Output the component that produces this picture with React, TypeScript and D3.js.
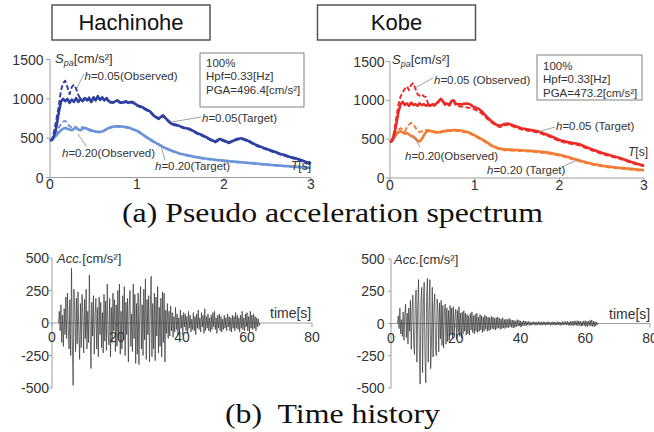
import React from "react";
import * as d3 from "d3";

// ---------- DATA ----------
const periods = [
  0, 0.025, 0.05, 0.075, 0.1, 0.125, 0.15, 0.175, 0.2, 0.225, 0.25, 0.275, 0.3, 0.325, 0.35, 0.375, 0.4, 0.425, 0.45, 0.475,
  0.5, 0.525, 0.55, 0.575, 0.6, 0.625, 0.65, 0.675, 0.7, 0.725, 0.75, 0.775, 0.8, 0.825, 0.85, 0.875, 0.9, 0.925, 0.95, 0.975, 1.0,
  1.05, 1.1, 1.15, 1.2, 1.25, 1.3, 1.35, 1.4, 1.45, 1.5, 1.55, 1.6, 1.65, 1.7, 1.75, 1.8, 1.85, 1.9, 1.95, 2.0,
  2.05, 2.1, 2.15, 2.2, 2.25, 2.3, 2.35, 2.4, 2.45, 2.5, 2.55, 2.6, 2.65, 2.7, 2.75, 2.8, 2.85, 2.9, 2.95, 3.0,
];

const hachinoheTarget05 = [
  470, 480, 540, 650, 820, 960, 1000, 970, 1000, 950, 990, 960, 1010, 960, 1000, 970, 1010, 980, 1000, 960,
  1020, 980, 1030, 990, 1020, 980, 1010, 970, 960, 950, 970, 980, 960, 950, 960, 970, 950, 960, 960, 940, 920,
  900, 870, 840, 780, 750, 790, 730, 680, 670, 650, 630, 620, 590, 560, 540, 510, 480, 455, 490, 470,
  445, 465, 490, 500, 480, 455, 425, 400, 380, 360, 340, 320, 300, 285, 265, 250, 235, 215, 195, 175,
];
const hachinoheObserved05 = [
  470, 490, 600, 750, 900, 1100, 1200, 1230, 1150, 1060, 1150, 1180, 1130, 1050, 1000, 980, 1010, 990, 1020, 960,
  1010, 990, 1040, 980, 1010, 990, 1000, 960, 950, 960, 960, 970, 950, 940, 950, 960, 940, 950, 950, 930, 910,
  890, 860, 830, 770, 740, 780, 720, 670, 660, 640, 620, 610, 580, 550, 530, 500, 470, 445, 480, 460,
  435, 455, 480, 490, 470, 445, 415, 390, 370, 350, 330, 310, 290, 275, 255, 240, 225, 205, 185, 165,
];
const hachinoheTarget20 = [
  470, 480, 510, 540, 570, 600, 620, 630, 620, 610, 600, 620, 630, 610, 600, 620, 630, 620, 610, 600,
  590, 585, 580, 580, 585, 600, 615, 630, 640, 645, 650, 650, 650, 648, 645, 640, 635, 625, 615, 605, 595,
  560, 520, 485, 450, 420, 390, 363, 340, 320, 303, 290, 278, 266, 256, 247, 239, 232, 226, 220, 214,
  209, 204, 199, 194, 189, 184, 179, 174, 169, 164, 159, 155, 151, 147, 143, 139, 135, 131, 127, 123,
];
const hachinoheObserved20 = [
  470, 490, 530, 580, 630, 680, 710, 720, 690, 650, 640, 650, 640, 620, 630, 640, 630, 610, 600, 590,
  585, 580, 575, 575, 580, 595, 610, 625, 635, 640, 645, 645, 645, 643, 640, 635, 630, 620, 610, 600, 590,
  555, 515, 480, 445, 415, 385, 358, 335, 315, 298, 285, 273, 261, 251, 242, 234, 227, 221, 215, 209,
  204, 199, 194, 189, 184, 179, 174, 169, 164, 159, 154, 150, 146, 142, 138, 134, 130, 126, 122, 118,
];

const kobeTarget05 = [
  460, 480, 560, 700, 850, 950, 980, 940, 960, 930, 970, 940, 950, 930, 960, 940, 950, 930, 940, 930,
  950, 940, 960, 990, 1020, 990, 950, 960, 940, 990, 1000, 960, 950, 950, 950, 955, 960, 955, 945, 925, 910,
  890, 840, 780, 730, 690, 670, 695, 700, 680, 660, 640, 630, 620, 610, 600, 580, 560, 540, 515, 490,
  475, 462, 452, 445, 430, 405, 385, 365, 345, 325, 308, 292, 278, 265, 245, 225, 205, 190, 175, 160,
];
const kobeObserved05 = [
  460, 490, 600, 780, 950, 1050, 1100, 1150, 1180, 1130, 1200, 1220, 1150, 1080, 1060, 1080, 1050, 1040, 960, 940,
  940, 930, 950, 980, 1010, 980, 940, 950, 930, 970, 990, 940, 930, 920, 920, 915, 910, 905, 900, 890, 880,
  860, 815, 760, 715, 675, 655, 680, 685, 665, 645, 625, 615, 605, 595, 585, 565, 545, 525, 500, 475,
  460, 447, 437, 430, 415, 390, 370, 350, 330, 311, 295, 280, 266, 253, 234, 214, 195, 180, 165, 150,
];
const kobeTarget20 = [
  460, 480, 520, 560, 590, 600, 590, 570, 580, 560, 540, 530, 510, 480, 470, 500, 550, 590, 610, 605,
  600, 595, 590, 590, 595, 600, 605, 610, 615, 615, 618, 618, 615, 612, 608, 602, 595, 588, 578, 565, 550,
  520, 490, 455, 420, 395, 378, 368, 365, 362, 360, 357, 354, 350, 346, 341, 336, 330, 320, 310, 298,
  285, 270, 255, 238, 222, 207, 193, 180, 170, 160, 152, 145, 139, 133, 127, 122, 117, 112, 107, 102,
];
const kobeObserved20 = [
  460, 490, 540, 590, 620, 640, 620, 600, 650, 690, 710, 690, 650, 610, 590, 600, 615, 620, 615, 605,
  595, 585, 580, 580, 585, 590, 595, 600, 605, 605, 608, 608, 605, 602, 598, 592, 585, 578, 568, 555, 540,
  510, 480, 445, 410, 385, 368, 358, 355, 352, 350, 347, 344, 340, 336, 331, 326, 320, 310, 300, 288,
  275, 260, 245, 228, 212, 197, 183, 170, 160, 150, 142, 135, 129, 123, 117, 112, 107, 102, 97, 92,
];

const timeStart = 2.0;
const timeStep = 0.25;
const hachinoheAcc = [
  0, 90, -60, 140, -150, 60, -180, 110,
  -90, 200, -120, 230, -40, -200, 180, -250,
  420, -120, -480, 260, 80, -220, 190, -160,
  240, -70, -280, 150, -190, 220, 40, -230,
  180, -120, 260, -200, 90, -150, 370, -60,
  -350, 160, -100, 210, -240, 60, 190, -200,
  120, -260, 200, -90, 160, -190, 80, -230,
  220, -140, 170, -210, 300, -80, -170, 190,
  -260, 120, -150, 230, -60, 180, -220, 140,
  -180, 250, -120, 300, -240, 90, -200, 210,
  -130, 280, -250, 160, -90, 190, -300, 120,
  250, -180, 70, -220, 300, -120, 220, -310,
  150, -240, 230, -320, 90, 280, -200, 140,
  -250, 260, -130, 340, -280, 180, -90, 210,
  -300, 120, 360, -260, 150, -200, 230, -290,
  200, -100, 280, -230, 120, -180, 190, -260,
  240, -150, 230, -300, 100, -80, 150, -120,
  90, -100, 130, -60, 80, -110, 50, -70,
  120, -50, 70, -90, 40, -80, 100, -40,
  60, -90, 80, -30, 70, -60, 50, -80,
  90, -40, 60, -70, 30, -50, 80, -60,
  50, -90, 70, -40, 100, -50, 40, -70,
  80, -30, 60, -80, 110, -60, 50, -40,
  70, -60, 40, -70, 60, -50, 80, -30,
  90, -50, 40, -80, 60, -40, 70, -60,
  50, -70, 30, -50, 60, -40, 40, -60,
  70, -30, 50, -60, 40, -70, 60, -40,
  50, -60, 80, -40, 60, -50, 40, -70,
  60, -40, 90, -50, 40, -60, 70, -30,
  80, -60, 50, -70, 90, -40, 60, -50,
  70, -40, 50, -60, 40, -30, 30, -20,
  0,
];
const kobeAcc = [
  0, 60, -40, 120, -80, 30, -100, 90,
  -130, 60, 150, -110, 80, -160, 120, -60,
  180, -200, 90, 220, -150, -240, 170, 260,
  -300, 120, 340, -200, -470, 180, 280, -380,
  150, 320, -250, -460, 210, 350, -300, 100,
  340, -350, -150, 280, -260, 120, 230, -200,
  -250, 190, 110, -220, 160, -120, 180, -170,
  140, -190, 90, 150, -160, 120, -140, 100,
  -130, 140, -80, 120, -110, 130, -90, 60,
  110, -120, 100, -70, 130, -100, 80, -110,
  90, -80, 100, -60, 80, -90, 70, -80,
  60, -90, 80, -50, 90, -70, 60, -80,
  70, -60, 80, -70, 50, -60, 70, -50,
  60, -70, 50, -60, 65, -45, 55, -60,
  50, -55, 45, -50, 55, -40, 50, -45,
  40, -50, 45, -40, 50, -35, 40, -45,
  35, -40, 45, -35, 30, -40, 35, -30,
  30, -35, 40, -25, 30, -30, 25, -35,
  25, -30, 20, -25, 30, -20, 25, -20,
  20, -25, 15, -20, 22, -15, 18, -20,
  15, -12, 18, -15, 10, -14, 12, -10,
  14, -10, 12, -15, 10, -12, 15, -10,
  12, -14, 10, -12, 15, -10, 12, -14,
  10, -12, 14, -10, 12, -15, 10, -12,
  14, -10, 12, -14, 10, -12, 15, -10,
  12, -15, 10, -14, 16, -12, 14, -10,
  15, -12, 18, -14, 12, -16, 18, -14,
  16, -18, 20, -14, 18, -15, 22, -18,
  20, -16, 18, -22, 15, -18, 20, -15,
  22, -20, 18, -25, 20, -15, 24, -20,
  28, -22, 18, -25, 15, -20, 12, -10,
  0,
];

const spectrumTicksX = [0, 1, 2, 3];
const spectrumTicksY = [0, 500, 1000, 1500];
const timeTicksX = [0, 20, 40, 60, 80];
const timeTicksY = [-500, -250, 0, 250, 500];

// ---------- STYLE ----------
const SANS = "'Liberation Sans', Arial, Helvetica, sans-serif";
const SERIF = "'Liberation Serif', 'Times New Roman', Times, serif";
const AXIS = "#a0a0a0";
const TEXT = "#333";

type Curve = { values: number[]; color: string; dashed: boolean };

function HLabel({ x, y, rest }: { x: number; y: number; rest: string }) {
  return (
    <text x={x} y={y} fontSize={11.5} fill={TEXT} fontFamily={SANS}>
      <tspan fontStyle="italic">h</tspan>
      {rest}
    </text>
  );
}

function Leader({ x1, y1, x2, y2 }: { x1: number; y1: number; x2: number; y2: number }) {
  return <line x1={x1} y1={y1} x2={x2} y2={y2} stroke="#888" strokeWidth={0.8} />;
}

function SpectrumPanel({
  xRange,
  yRange,
  curves,
  labelOffset,
  children,
}: {
  xRange: [number, number];
  yRange: [number, number];
  curves: Curve[];
  labelOffset: number;
  children?: React.ReactNode;
}) {
  const x = d3.scaleLinear().domain([0, 3]).range(xRange);
  const y = d3.scaleLinear().domain([0, 1500]).range(yRange);
  const gen = d3
    .line<number>()
    .x((_, i) => x(periods[i]))
    .y((d) => y(d));
  return (
    <g>
      <line x1={x(0)} x2={x(0)} y1={y(0)} y2={y(1500)} stroke={AXIS} strokeWidth={1} />
      <line x1={x(0)} x2={x(3)} y1={y(0)} y2={y(0)} stroke={AXIS} strokeWidth={1} />
      {spectrumTicksY.map((t) => (
        <g key={"y" + t}>
          <line x1={x(0) - 4} x2={x(0)} y1={y(t)} y2={y(t)} stroke={AXIS} />
          <text x={x(0) - labelOffset} y={y(t)} dy="0.36em" textAnchor="end" fontSize={14} fill={TEXT} fontFamily={SANS}>
            {t}
          </text>
        </g>
      ))}
      {spectrumTicksX.map((t) => (
        <g key={"x" + t}>
          <line x1={x(t)} x2={x(t)} y1={y(0)} y2={y(0) + 4} stroke={AXIS} />
          <text x={x(t)} y={y(0) + 11.5} textAnchor="middle" fontSize={14} fill={TEXT} fontFamily={SANS}>
            {t}
          </text>
        </g>
      ))}
      {curves.map((c, i) => (
        <path
          key={i}
          d={gen(c.values) || ""}
          fill="none"
          stroke={c.color}
          strokeWidth={c.dashed ? 1.9 : 2.6}
          strokeDasharray={c.dashed ? "5,2.5" : undefined}
          strokeLinejoin="round"
        />
      ))}
      {children}
    </g>
  );
}

function TimePanel({
  xRange,
  yRange,
  values,
  labelOffset,
}: {
  xRange: [number, number];
  yRange: [number, number];
  values: number[];
  labelOffset: number;
}) {
  const x = d3.scaleLinear().domain([0, 80]).range(xRange);
  const y = d3.scaleLinear().domain([-500, 500]).range(yRange);
  const gen = d3
    .line<number>()
    .x((_, i) => x(timeStart + i * timeStep))
    .y((d) => y(d));
  return (
    <g>
      <line x1={x(0)} x2={x(0)} y1={y(-500)} y2={y(500)} stroke={AXIS} />
      <line x1={x(0)} x2={x(80)} y1={y(0)} y2={y(0)} stroke={AXIS} />
      {timeTicksY.map((t) => (
        <g key={"y" + t}>
          <line x1={x(0) - 3} x2={x(0)} y1={y(t)} y2={y(t)} stroke={AXIS} />
          <text x={x(0) - labelOffset} y={y(t)} dy="0.36em" textAnchor="end" fontSize={14} fill={TEXT} fontFamily={SANS}>
            {t}
          </text>
        </g>
      ))}
      {timeTicksX.map((t) => (
        <g key={"x" + t}>
          <line x1={x(t)} x2={x(t)} y1={y(0)} y2={y(0) + 4} stroke={AXIS} />
          <text x={x(t)} y={y(0) + 19} textAnchor="middle" fontSize={14} fill={TEXT} fontFamily={SANS}>
            {t}
          </text>
        </g>
      ))}
      <path d={gen(values) || ""} fill="none" stroke="#333" strokeWidth={0.7} strokeLinejoin="round" />
    </g>
  );
}

function InfoBox({ x, y, w, h, pga, lines }: { x: number; y: number; w: number; h: number; pga: string; lines: number[] }) {
  return (
    <g fontFamily={SANS} fontSize={11.5} fill={TEXT}>
      <rect x={x} y={y} width={w} height={h} fill="white" stroke="#808080" strokeWidth={1} />
      <text x={x + 6} y={lines[0]}>100%</text>
      <text x={x + 6} y={lines[1]}>Hpf=0.33[Hz]</text>
      <text x={x + 6} y={lines[2]}>{`PGA=${pga}[cm/s²]`}</text>
    </g>
  );
}

export default function App() {
  const blueDark = "#2e40a0";
  const blueLight = "#6a94da";
  const red = "#ec2a26";
  const orange = "#f37b33";
  return (
    <svg
      width={654}
      height={432}
      viewBox="0 0 654 432"
      style={{ position: "absolute", left: 0, top: 0, background: "#fff" }}
    >
      <rect width={654} height={432} fill="#fff" />

      {/* Title boxes */}
      <rect x={52} y={5} width={158} height={35} fill="white" stroke="#555" strokeWidth={1.5} />
      <text x={131} y={30} textAnchor="middle" fontSize={22} fontFamily={SANS} fill="#111">
        Hachinohe
      </text>
      <rect x={317.5} y={5} width={158} height={35} fill="white" stroke="#555" strokeWidth={1.5} />
      <text x={396.5} y={30} textAnchor="middle" fontSize={22} fontFamily={SANS} fill="#111">
        Kobe
      </text>

      {/* Left spectrum */}
      <SpectrumPanel
        xRange={[50, 311]}
        yRange={[177.5, 59.5]}
        labelOffset={6.5}
        curves={[
          { values: hachinoheTarget20, color: blueLight, dashed: false },
          { values: hachinoheObserved20, color: blueLight, dashed: true },
          { values: hachinoheTarget05, color: blueDark, dashed: false },
          { values: hachinoheObserved05, color: blueDark, dashed: true },
        ]}
      >
        <text x={55} y={63} fontSize={13} fill={TEXT} fontFamily={SANS}>
          <tspan fontStyle="italic">S</tspan>
          <tspan fontStyle="italic" fontSize={9} dy={3}>pa</tspan>
          <tspan dy={-3}>[cm/s²]</tspan>
        </text>
        <InfoBox x={200} y={53} w={104} h={54} pga="496.4" lines={[67, 80, 94]} />
        <Leader x1={84} y1={74} x2={77} y2={88} />
        <HLabel x={84.5} y={79.5} rest="=0.05(Observed)" />
        <Leader x1={172} y1={122} x2={201} y2={117} />
        <HLabel x={202} y={122} rest="=0.05(Target)" />
        <Leader x1={86} y1={146} x2={78} y2={134} />
        <HLabel x={62} y={157} rest="=0.20(Observed)" />
        <Leader x1={161} y1={146} x2={165} y2={160} />
        <HLabel x={155} y={170} rest="=0.20(Target)" />
        <text x={291} y={170} fontSize={12} fill={TEXT} fontFamily={SANS}>
          <tspan fontStyle="italic">T</tspan>[s]
        </text>
      </SpectrumPanel>

      {/* Right spectrum */}
      <SpectrumPanel
        xRange={[390, 644]}
        yRange={[178, 61.5]}
        labelOffset={5.5}
        curves={[
          { values: kobeTarget20, color: orange, dashed: false },
          { values: kobeObserved20, color: orange, dashed: true },
          { values: kobeTarget05, color: red, dashed: false },
          { values: kobeObserved05, color: red, dashed: true },
        ]}
      >
        <text x={392} y={64} fontSize={13} fill={TEXT} fontFamily={SANS}>
          <tspan fontStyle="italic">S</tspan>
          <tspan fontStyle="italic" fontSize={9} dy={3}>pa</tspan>
          <tspan dy={-3}>[cm/s²]</tspan>
        </text>
        <InfoBox x={537} y={55} w={105} h={45} pga="473.2" lines={[69.5, 83, 96.5]} />
        <Leader x1={433} y1={78} x2={415} y2={88} />
        <HLabel x={434} y={83.5} rest="=0.05 (Observed)" />
        <Leader x1={538} y1={132} x2={555} y2={127} />
        <HLabel x={556} y={129.5} rest="=0.05 (Target)" />
        <Leader x1={420} y1={147} x2={413} y2={135} />
        <HLabel x={405} y={160} rest="=0.20(Observed)" />
        <Leader x1={562} y1={167} x2={577} y2={160} />
        <HLabel x={487} y={173.5} rest="=0.20 (Target)" />
        <text x={628} y={156} fontSize={12} fill={TEXT} fontFamily={SANS}>
          <tspan fontStyle="italic">T</tspan>[s]
        </text>
      </SpectrumPanel>

      {/* Caption (a) */}
      <text x={122} y={222} fontSize={28} fontFamily={SERIF} fill="#111" textLength={421} lengthAdjust="spacingAndGlyphs">
        (a) Pseudo acceleration spectrum
      </text>

      {/* Time histories */}
      <TimePanel xRange={[52, 312]} yRange={[388, 258]} values={hachinoheAcc} labelOffset={3} />
      <text x={57} y={263} fontSize={13} fill={TEXT} fontFamily={SANS}>
        <tspan fontStyle="italic">Acc.</tspan>[cm/s²]
      </text>
      <text x={270} y={318} fontSize={14} fill={TEXT} fontFamily={SANS}>
        time[s]
      </text>

      <TimePanel xRange={[391, 650]} yRange={[388, 259]} values={kobeAcc} labelOffset={6.5} />
      <text x={394} y={264} fontSize={13} fill={TEXT} fontFamily={SANS}>
        <tspan fontStyle="italic">Acc.</tspan>[cm/s²]
      </text>
      <text x={609} y={318.5} fontSize={14} fill={TEXT} fontFamily={SANS}>
        time[s]
      </text>

      {/* Caption (b) */}
      <text x={225} y={423} fontSize={28} fontFamily={SERIF} fill="#111" textLength={215} lengthAdjust="spacingAndGlyphs" style={{ whiteSpace: "pre" }}>
        {"(b)  Time history"}
      </text>
    </svg>
  );
}
